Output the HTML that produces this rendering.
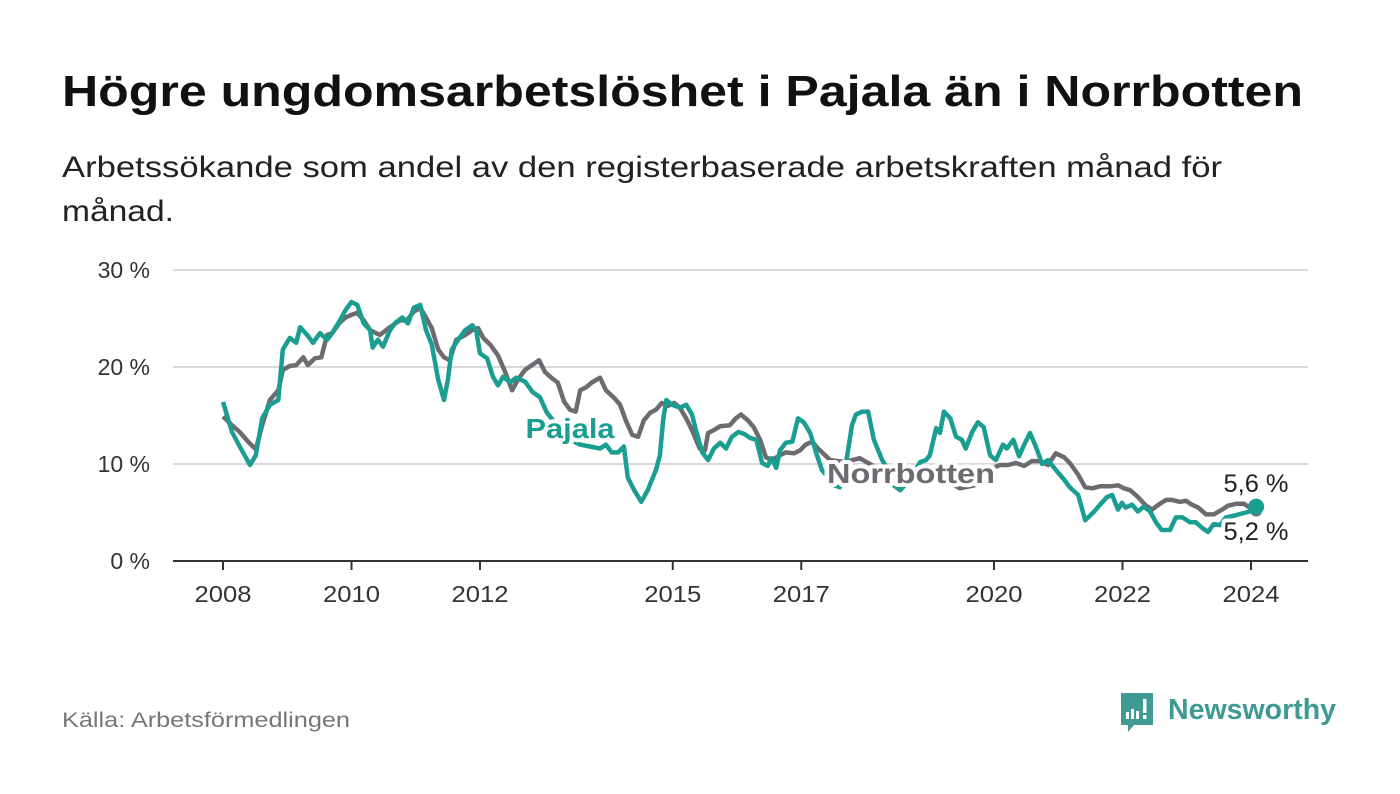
<!DOCTYPE html>
<html><head><meta charset="utf-8">
<style>
html,body{margin:0;padding:0;background:#fff;}
svg{display:block;font-family:"Liberation Sans","DejaVu Sans",sans-serif;}
</style></head>
<body>
<svg id="chart" width="1400" height="794" viewBox="0 0 1400 794">
  <text x="62" y="106" font-size="44" font-weight="bold" fill="#111" textLength="1241" lengthAdjust="spacingAndGlyphs">Högre ungdomsarbetslöshet i Pajala än i Norrbotten</text>
  <text x="62" y="177" font-size="30" fill="#222" textLength="1160" lengthAdjust="spacingAndGlyphs">Arbetssökande som andel av den registerbaserade arbetskraften månad för</text>
  <text x="62" y="221" font-size="30" fill="#222" textLength="112" lengthAdjust="spacingAndGlyphs">månad.</text>
  <g id="grid"></g>
  <g id="axes"></g>
  <g id="series"></g>
  <g id="labels"></g>
  <text x="62" y="727" font-size="21" fill="#777" textLength="288" lengthAdjust="spacingAndGlyphs">Källa: Arbetsförmedlingen</text>
  <g>
    <path d="M1121 693 h32 v32 h-19 l-6 7 v-7 h-7 z" fill="#3e9a93"/>
    <rect x="1126" y="712" width="3" height="7" fill="#fff"/>
    <rect x="1131" y="709" width="3" height="10" fill="#fff"/>
    <rect x="1136" y="711" width="3" height="8" fill="#fff"/>
    <rect x="1143" y="699" width="3.5" height="14" fill="#fff"/>
    <rect x="1143" y="715" width="3.5" height="4" fill="#fff"/>
    <text x="1168" y="719" font-size="29" font-weight="bold" fill="#3e9a93" textLength="168" lengthAdjust="spacingAndGlyphs">Newsworthy</text>
  </g>
</svg>
<script>
const yTicks = [0, 10, 20, 30];
const yTickLabels = ["0 %", "10 %", "20 %", "30 %"];
const xTicks = [2008, 2010, 2012, 2015, 2017, 2020, 2022, 2024];
const xTickLabels = ["2008", "2010", "2012", "2015", "2017", "2020", "2022", "2024"];

const pajYears = [2008.00,2008.14,2008.26,2008.42,2008.51,2008.61,2008.73,2008.86,2008.93,2009.04,2009.14,2009.20,2009.31,2009.40,2009.51,2009.62,2009.70,2009.82,2009.91,2010.00,2010.09,2010.19,2010.29,2010.33,2010.41,2010.49,2010.60,2010.69,2010.79,2010.88,2010.97,2011.07,2011.16,2011.25,2011.35,2011.44,2011.50,2011.56,2011.66,2011.77,2011.88,2011.94,2012.00,2012.11,2012.20,2012.28,2012.36,2012.47,2012.56,2012.70,2012.82,2012.93,2013.04,2013.14,2013.25,2013.40,2013.56,2013.71,2013.87,2013.96,2014.05,2014.15,2014.24,2014.30,2014.40,2014.51,2014.61,2014.74,2014.80,2014.85,2014.90,2014.99,2015.11,2015.21,2015.30,2015.36,2015.46,2015.55,2015.64,2015.74,2015.83,2015.92,2016.02,2016.11,2016.20,2016.30,2016.39,2016.48,2016.54,2016.61,2016.67,2016.76,2016.86,2016.95,2017.04,2017.14,2017.23,2017.32,2017.42,2017.51,2017.60,2017.70,2017.79,2017.85,2017.95,2018.04,2018.13,2018.26,2018.35,2018.44,2018.54,2018.69,2018.85,2018.94,2019.00,2019.10,2019.16,2019.22,2019.32,2019.41,2019.50,2019.56,2019.66,2019.75,2019.84,2019.94,2020.03,2020.14,2020.20,2020.30,2020.39,2020.47,2020.56,2020.65,2020.75,2020.84,2020.96,2021.09,2021.18,2021.31,2021.42,2021.56,2021.65,2021.76,2021.84,2021.93,2021.99,2022.05,2022.15,2022.24,2022.33,2022.43,2022.52,2022.61,2022.74,2022.83,2022.93,2023.05,2023.14,2023.24,2023.33,2023.42,2023.52,2023.61,2023.75,2023.86,2023.98,2024.08];
const pajVals = [16.4,13.3,11.8,9.9,10.9,14.7,16.1,16.6,21.8,23.0,22.5,24.1,23.3,22.5,23.5,22.8,23.5,24.8,25.9,26.7,26.4,24.5,23.8,22.0,22.8,22.1,23.8,24.6,25.1,24.5,26.1,26.4,23.8,22.3,18.7,16.6,18.7,21.8,22.8,23.8,24.3,23.8,21.4,20.9,19.0,18.1,19.0,18.4,18.9,18.5,17.4,16.9,15.3,14.5,13.5,12.5,12.0,11.8,11.6,12.0,11.2,11.2,11.8,8.6,7.3,6.1,7.3,9.4,10.9,14.5,16.6,16.1,15.8,16.1,15.1,13.5,11.2,10.4,11.6,12.2,11.6,12.8,13.3,13.1,12.7,12.5,10.1,9.8,10.6,9.6,11.4,12.2,12.3,14.7,14.3,13.2,11.2,9.4,8.6,7.8,7.6,10.2,14.0,15.1,15.4,15.4,12.5,10.4,9.4,7.8,7.3,8.4,10.2,10.4,10.9,13.7,13.2,15.4,14.7,12.8,12.5,11.6,13.3,14.3,13.8,10.9,10.4,12.0,11.6,12.5,10.8,12.0,13.2,11.8,10.0,10.4,9.4,8.4,7.6,6.8,4.2,5.1,5.8,6.6,6.8,5.3,6.0,5.5,5.8,5.1,5.6,5.1,4.0,3.2,3.2,4.5,4.5,4.0,4.0,3.4,3.0,3.8,3.7,4.5,4.7,4.9,5.1,5.6];

const norYears = [2008.00,2008.14,2008.26,2008.39,2008.51,2008.61,2008.73,2008.86,2008.93,2009.04,2009.14,2009.25,2009.32,2009.43,2009.53,2009.62,2009.70,2009.82,2009.91,2010.01,2010.09,2010.19,2010.29,2010.44,2010.60,2010.75,2010.86,2010.97,2011.07,2011.16,2011.25,2011.35,2011.44,2011.53,2011.63,2011.77,2011.88,2011.97,2012.05,2012.16,2012.28,2012.39,2012.50,2012.59,2012.70,2012.81,2012.92,2013.01,2013.11,2013.21,2013.31,2013.40,2013.49,2013.56,2013.65,2013.74,2013.87,2013.96,2014.09,2014.18,2014.27,2014.37,2014.46,2014.55,2014.65,2014.74,2014.83,2014.93,2015.02,2015.11,2015.21,2015.30,2015.42,2015.50,2015.55,2015.64,2015.74,2015.89,2015.98,2016.06,2016.17,2016.26,2016.36,2016.45,2016.54,2016.67,2016.76,2016.89,2016.98,2017.07,2017.17,2017.26,2017.45,2017.68,2017.91,2018.23,2018.54,2018.85,2019.16,2019.47,2019.70,2019.94,2020.09,2020.22,2020.34,2020.47,2020.59,2020.72,2020.84,2020.96,2021.09,2021.18,2021.31,2021.42,2021.53,2021.65,2021.81,2021.93,2022.02,2022.12,2022.24,2022.35,2022.46,2022.58,2022.68,2022.77,2022.89,2022.99,2023.08,2023.18,2023.30,2023.42,2023.55,2023.64,2023.77,2023.89,2023.98,2024.08];
const norVals = [14.9,14.0,13.3,12.3,11.5,14.0,16.6,17.6,19.7,20.1,20.2,21.0,20.2,20.9,21.0,23.3,23.5,24.6,25.1,25.4,25.6,24.8,23.8,23.3,24.1,24.8,24.8,25.7,26.1,25.1,24.0,21.8,21.0,20.7,22.8,23.3,23.8,24.0,23.0,22.3,21.2,19.5,17.6,18.7,19.7,20.2,20.7,19.5,18.9,18.4,16.4,15.6,15.4,17.6,17.9,18.4,18.9,17.6,16.8,16.1,14.5,13.0,12.8,14.5,15.3,15.6,16.3,16.0,16.3,15.8,14.7,13.5,11.6,11.4,13.2,13.5,13.9,14.0,14.7,15.1,14.5,13.8,12.5,10.7,10.4,10.9,11.2,11.1,11.4,12.0,12.3,11.6,10.4,10.2,10.6,9.4,8.1,8.4,8.6,7.5,7.8,9.4,9.9,9.9,10.1,9.8,10.3,10.3,9.9,11.1,10.7,10.1,8.9,7.6,7.5,7.7,7.7,7.8,7.5,7.3,6.6,5.8,5.3,5.9,6.3,6.3,6.1,6.2,5.8,5.5,4.8,4.8,5.3,5.7,5.9,5.9,5.5,5.2];

const TEAL = "#1a9e92", GRAY = "#6e6b70";
const NS = "http://www.w3.org/2000/svg";
function xScale(yr){ return 223 + (yr - 2008) * 64.25; }
function yScale(v){ return 561 - v * 9.7; }
function mk(tag, attrs, parent){
  const e = document.createElementNS(NS, tag);
  for (const k in attrs) e.setAttribute(k, attrs[k]);
  parent.appendChild(e); return e;
}
const grid = document.getElementById('grid');
const axes = document.getElementById('axes');
const series = document.getElementById('series');
const labels = document.getElementById('labels');

yTicks.forEach((t, i) => {
  if (t > 0) {
    const gl = mk('line', {x1:173, x2:1308, y1:yScale(t), y2:yScale(t), stroke:'#d9d9d9', 'stroke-width':2}, grid);
    
    
  }
  const tx = mk('text', {x:150, y:yScale(t) + 8, 'font-size':23, fill:'#333', 'text-anchor':'end'}, axes);
  tx.textContent = yTickLabels[i];
  
  
});
const base = mk('line', {x1:173, x2:1308, y1:561, y2:561, stroke:'#333', 'stroke-width':2}, axes);


xTicks.forEach((t, i) => {
  const tk = mk('line', {x1:xScale(t), x2:xScale(t), y1:561, y2:570, stroke:'#333', 'stroke-width':2}, axes);
  
  
  const tx = mk('text', {x:xScale(t), y:602, 'font-size':23, fill:'#333', 'text-anchor':'middle', textLength:57, lengthAdjust:'spacingAndGlyphs'}, axes);
  tx.textContent = xTickLabels[i];
  
  
});

function pathFor(xs, vs){
  return xs.map((x, i) => (i ? 'L' : 'M') + xScale(x).toFixed(1) + ' ' + yScale(vs[i]).toFixed(1)).join(' ');
}
const norLine = mk('path', {d:pathFor(norYears, norVals), fill:'none', stroke:GRAY, 'stroke-width':4.5, 'stroke-linejoin':'round'}, series);


const pajLine = mk('path', {d:pathFor(pajYears, pajVals), fill:'none', stroke:TEAL, 'stroke-width':4.5, 'stroke-linejoin':'round'}, series);


const lastN = norVals.length - 1, lastP = pajVals.length - 1;
const norDot = mk('circle', {cx:xScale(norYears[lastN]), cy:yScale(norVals[lastN]), r:6, fill:GRAY}, series);


const pajDot = mk('circle', {cx:xScale(pajYears[lastP]), cy:yScale(pajVals[lastP]), r:8, fill:TEAL}, series);



function label(txt, x, y, size, weight, color, len){
  const t = mk('text', {x:x, y:y, 'font-size':size, 'font-weight':weight, fill:color, 'text-anchor':'middle', stroke:'#fff', 'stroke-width':8, 'paint-order':'stroke', 'stroke-linejoin':'round', textLength:len, lengthAdjust:'spacingAndGlyphs'}, labels);
  t.textContent = txt; return t;
}
const l1 = label('Pajala', 570, 438, 28, 'bold', TEAL, 89);


const l2 = label('Norrbotten', 911, 483, 28, 'bold', GRAY, 168);


const l3 = label(pajVals[lastP].toFixed(1).replace('.', ',') + ' %', 1256, 492, 25, 'normal', '#222', 65);


const l4 = label(norVals[lastN].toFixed(1).replace('.', ',') + ' %', 1256, 540, 25, 'normal', '#222', 65);


</script>
</body></html>
